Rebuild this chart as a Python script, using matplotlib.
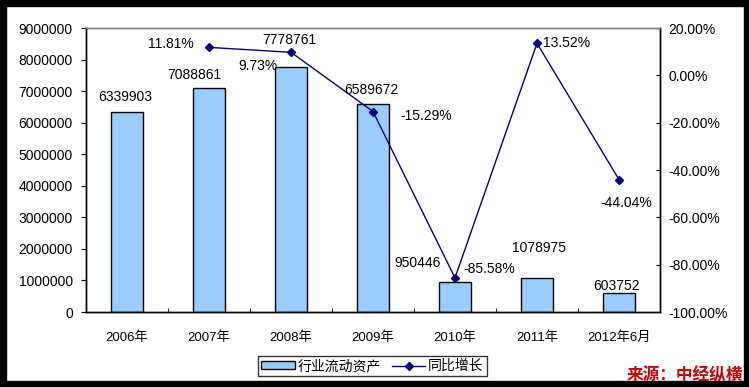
import matplotlib
matplotlib.use("Agg")
import matplotlib.pyplot as plt
import matplotlib.patches as patches
from matplotlib.ticker import FuncFormatter

plt.rcParams['font.family'] = ['Liberation Sans', 'Noto Sans CJK SC', 'DejaVu Sans']

# data
categories = ['2006年', '2007年', '2008年', '2009年', '2010年', '2011年', '2012年6月']
assets = [6339903, 7088861, 7778761, 6589672, 950446, 1078975, 603752]
growth = [None, 11.81, 9.73, -15.29, -85.58, 13.52, -44.04]

W, H = 749, 387
fig = plt.figure(figsize=(W / 100, H / 100), dpi=100)

# black frame round the picture
for (x, y, w, h) in [(0, 0, W, 6), (0, H - 6, W, 6), (0, 0, 6, H), (W - 5, 0, 5, H)]:
    fig.add_artist(patches.Rectangle((x / W, 1 - (y + h) / H), w / W, h / H,
                                     transform=fig.transFigure, color='black', zorder=10))

# plot area in pixels
left, top, right, bottom = 86, 28, 660, 312
ax = fig.add_axes([left / W, 1 - bottom / H, (right - left) / W, (bottom - top) / H])

x = list(range(len(categories)))
ax.bar(x, assets, width=0.4, color='#99CCFF', edgecolor='black', linewidth=1, zorder=2)
ax.set_xlim(-0.5, len(categories) - 0.5)
ax.set_ylim(0, 9000000)
ax.set_yticks(range(0, 9000001, 1000000))
ax.yaxis.set_major_formatter(FuncFormatter(lambda v, p: f'{int(v)}'))
ax.set_xticks(x)
ax.set_xticklabels(categories, fontsize=9.5)
ax.set_xticks([i + 0.5 for i in x[:-1]], minor=True)
ax.tick_params(axis='x', which='major', length=0, pad=14)
ax.tick_params(axis='x', which='minor', length=3, direction='in')
ax.tick_params(axis='y', length=3.5, direction='out', labelsize=10, pad=6)
for s in ax.spines.values():
    s.set_color('black')
    s.set_linewidth(1)
ax.spines['top'].set_color('#808080')

ax2 = ax.twinx()
gx = [i for i, g in zip(x, growth) if g is not None]
gy = [g for g in growth if g is not None]
line, = ax2.plot(gx, gy, color='#000080', linewidth=1, marker='D', markersize=4.5, zorder=3)
ax2.set_ylim(-100, 20)
ax2.set_yticks(range(-100, 21, 20))
ax2.yaxis.set_major_formatter(FuncFormatter(lambda v, p: f'{v:.2f}%'))
ax2.tick_params(axis='y', length=3, direction='in', labelsize=10, pad=6)
for s in ax2.spines.values():
    s.set_color('black')
    s.set_linewidth(1)
ax2.spines['top'].set_color('#808080')

# bar value labels, offsets of label centre from bar top in pixels
bar_offsets = [(-2, 15), (-15, 13), (-2, 27), (-2, 14), (-37, 19), (2, 30), (-2, 7)]
for i, (v, (dx, dy)) in enumerate(zip(assets, bar_offsets)):
    ax.annotate(str(v), (i, v), xytext=(dx, dy), textcoords='offset pixels',
                ha='center', va='center', fontsize=10)

# growth labels, offsets of label centre from point in pixels
g_offsets = {1: (-38, 3), 2: (-33, -14), 3: (53, -4), 4: (34, 9), 5: (30, 0), 6: (7, -23)}
for i, g in zip(gx, gy):
    dx, dy = g_offsets[i]
    ax2.annotate(f'{g:.2f}%', (i, g), xytext=(dx, dy), textcoords='offset pixels',
                 ha='center', va='center', fontsize=10)

bar_handle = patches.Patch(facecolor='#99CCFF', edgecolor='black', linewidth=1)
leg = fig.legend([bar_handle, line], ['行业流动资产', '同比增长'],
                 loc='center', bbox_to_anchor=(372.5 / W, 1 - 366 / H), ncol=2,
                 frameon=True, fancybox=False, edgecolor='black',
                 handlelength=2.4, handleheight=0.5, handletextpad=0.2, columnspacing=0.8,
                 borderpad=0.25, borderaxespad=0,
                 prop={'family': ['Noto Sans CJK SC'], 'size': 10})
leg.get_frame().set_linewidth(1)

fig.text(743 / W, 1 - 375 / H, '来源：中经纵横', ha='right', va='center',
         color='#CC0000', fontsize=12, fontweight='bold', family=['Noto Sans CJK SC'],
         zorder=11)

fig.savefig('out.png', dpi=100)
